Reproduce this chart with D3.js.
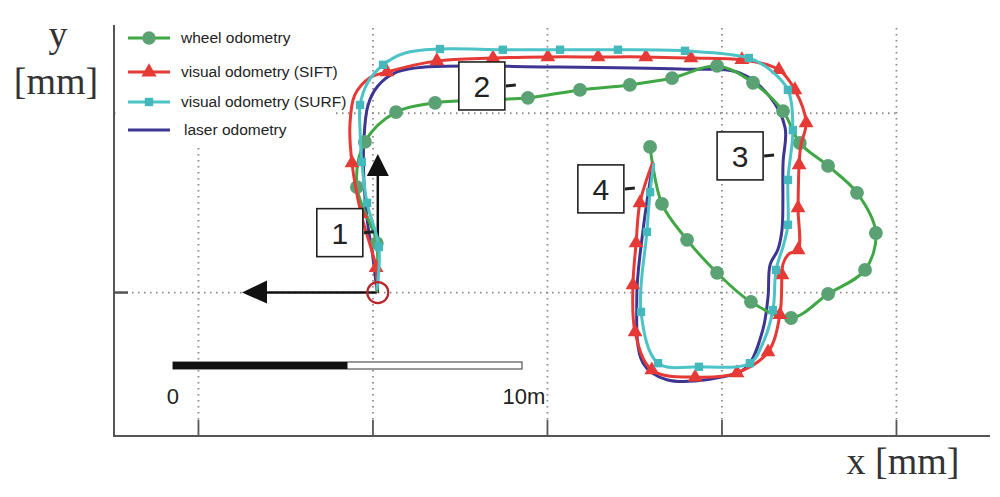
<!DOCTYPE html>
<html>
<head>
<meta charset="utf-8">
<script src="https://cdn.jsdelivr.net/npm/d3@7"></script>
<style>
  body { margin: 0; background: #fff; }
  svg { display: block; }
</style>
</head>
<body>
<svg id="chart" width="1000" height="497"></svg>
<script>
// trajectories in metres, [x, y, marker?]
var wheelOdo = [
  [0.11, 0.02, 0], [0.11, 1.38, 1], [-0.46, 2.94, 1], [-0.23, 4.20, 1], [0.66, 5.03, 1],
  [1.78, 5.29, 1], [3.12, 5.37, 1], [4.44, 5.43, 1], [5.93, 5.65, 1], [7.36, 5.79, 1],
  [8.57, 5.98, 1], [9.86, 6.32, 1], [10.89, 5.85, 1], [11.75, 5.06, 1], [12.23, 4.17, 1],
  [13.04, 3.53, 1], [13.87, 2.78, 1], [14.41, 1.66, 1], [14.10, 0.63, 1], [13.04, -0.04, 1],
  [11.98, -0.71, 1], [10.83, -0.26, 1], [9.86, 0.55, 1], [9.00, 1.47, 1], [8.28, 2.47, 1],
  [7.94, 4.06, 1]
];
var siftOdo = [
  [0.11, 0.07, 0], [0.09, 0.69, 1], [-0.34, 2.19, 1], [-0.60, 3.61, 1], [-0.66, 4.67, 0],
  [-0.52, 5.51, 0], [-0.09, 5.99, 0], [0.40, 6.15, 1], [1.83, 6.46, 1], [3.44, 6.54, 1],
  [5.01, 6.57, 1], [6.45, 6.57, 1], [7.82, 6.57, 1], [9.11, 6.54, 1], [10.57, 6.49, 1],
  [11.63, 6.21, 1], [12.09, 5.65, 1], [12.41, 4.73, 1], [12.26, 4.11, 0], [12.21, 3.56, 1],
  [12.18, 2.36, 1], [12.18, 1.19, 1], [11.92, 1.08, 0], [11.75, 0.80, 0], [11.72, 0.49, 1],
  [11.66, -0.62, 1], [11.32, -1.66, 1], [10.43, -2.24, 1], [9.23, -2.36, 1], [7.99, -2.16, 1],
  [7.51, -1.10, 1], [7.45, 0.21, 1], [7.54, 1.38, 1], [7.65, 2.50, 1], [8.02, 3.64, 0]
];
var surfOdo = [
  [0.11, 0.07, 0], [0.17, 1.27, 1], [-0.17, 2.50, 1], [-0.32, 3.64, 1], [-0.37, 4.53, 0],
  [-0.37, 5.23, 1], [-0.14, 5.87, 0], [0.29, 6.35, 1], [0.92, 6.68, 0], [1.92, 6.79, 1],
  [3.72, 6.77, 1], [5.36, 6.77, 1], [7.02, 6.77, 1], [8.94, 6.74, 1], [10.77, 6.54, 1],
  [11.38, 6.21, 0], [11.89, 5.65, 1], [12.03, 4.53, 1], [11.89, 3.14, 1], [11.89, 1.89, 1],
  [11.78, 1.38, 0], [11.55, 0.63, 1], [11.46, -0.49, 1], [11.15, -1.46, 0], [10.80, -1.97, 1],
  [9.34, -2.07, 1], [8.17, -1.97, 1], [7.68, -0.54, 1], [7.85, 1.69, 1], [7.94, 2.80, 1],
  [8.05, 3.61, 0]
];
var laserOdo = [
  [0.11, 0.07], [-0.03, 1.19], [-0.14, 1.83], [-0.26, 3.14], [-0.26, 4.26], [-0.14, 5.23],
  [0.14, 5.76], [0.69, 6.15], [1.49, 6.29], [5.07, 6.29], [8.80, 6.23], [10.52, 6.12],
  [11.38, 5.45], [11.81, 4.59], [11.75, 3.61], [11.72, 1.75], [11.60, 1.19], [11.38, 0.78],
  [11.32, -0.12], [11.17, -1.04], [10.72, -2.07], [10.03, -2.35], [8.42, -2.43], [7.74, -1.97],
  [7.56, -0.12], [7.74, 1.75], [7.99, 3.41]
];

var legendLabels = ["wheel odometry", "visual odometry (SIFT)", "visual odometry (SURF)", "laser odometry"];
var xGrid = [-5, 0, 5, 10, 15];
var yGrid = [0, 5];
// numbered boxes: label, centre x, centre y (m)
var boxLabels = ["1", "2", "3", "4"];
var boxCentres = [[-0.95, 1.67], [3.12, 5.76], [10.52, 3.81], [6.53, 2.89]];
var scaleBar = [-5.73, 10];   // start (m), length (m)
var scaleLabels = ["0", "10m"];

var svg = d3.select("#chart");
var x = d3.scaleLinear().domain([-7.42, 17.68]).range([114, 990]);
var y = d3.scaleLinear().domain([-4.0, 7.46]).range([436, 25]);

// grid
svg.selectAll(".vgrid").data(xGrid).enter().append("line")
  .attr("x1", d => x(d)).attr("x2", d => x(d)).attr("y1", 28).attr("y2", 420)
  .attr("stroke", "#8a8a8a").attr("stroke-width", 1.8).attr("stroke-dasharray", "1.5,4.5");
svg.selectAll(".hgrid").data(yGrid).enter().append("line")
  .attr("x1", 114).attr("x2", x(15)).attr("y1", d => y(d)).attr("y2", d => y(d))
  .attr("stroke", "#8a8a8a").attr("stroke-width", 1.8).attr("stroke-dasharray", "1.5,4.5");

// legend background hides the grid there
svg.append("rect").attr("x", 117).attr("y", 22).attr("width", 215).attr("height", 122).attr("fill", "#fff");

// axes
svg.append("line").attr("x1", 114).attr("x2", 114).attr("y1", 25).attr("y2", 437)
  .attr("stroke", "#555").attr("stroke-width", 2);
svg.append("line").attr("x1", 113).attr("x2", 990).attr("y1", 436).attr("y2", 436)
  .attr("stroke", "#555").attr("stroke-width", 2);
svg.selectAll(".xtick").data(xGrid).enter().append("line")
  .attr("x1", d => x(d)).attr("x2", d => x(d)).attr("y1", 420).attr("y2", 436)
  .attr("stroke", "#555").attr("stroke-width", 1.8);
svg.selectAll(".ytick").data(yGrid.slice(0, 1)).enter().append("line")
  .attr("x1", 114).attr("x2", 128).attr("y1", d => y(d)).attr("y2", d => y(d))
  .attr("stroke", "#555").attr("stroke-width", 2.5);

svg.append("text").attr("x", 58).attr("y", 47).attr("text-anchor", "middle")
  .attr("font-family", "Liberation Serif, serif").attr("font-size", 38).attr("fill", "#333").text("y");
svg.append("text").attr("x", 56).attr("y", 94).attr("text-anchor", "middle")
  .attr("font-family", "Liberation Serif, serif").attr("font-size", 38).attr("fill", "#333").text("[mm]");
svg.append("text").attr("x", 903).attr("y", 474).attr("text-anchor", "middle")
  .attr("font-family", "Liberation Serif, serif").attr("font-size", 38).attr("fill", "#333").text("x [mm]");

// scale bar
var sb0 = x(scaleBar[0]), sb1 = x(scaleBar[0] + scaleBar[1]), sbm = x(scaleBar[0] + scaleBar[1] / 2);
svg.append("rect").attr("x", sb0).attr("y", 362).attr("width", sb1 - sb0).attr("height", 7)
  .attr("fill", "#fff").attr("stroke", "#333").attr("stroke-width", 1);
svg.append("rect").attr("x", sb0).attr("y", 362).attr("width", sbm - sb0).attr("height", 7).attr("fill", "#111");
svg.selectAll(".sblab").data(scaleLabels).enter().append("text")
  .attr("x", (d, i) => i == 0 ? sb0 : sb1 + 2).attr("y", 404).attr("text-anchor", "middle")
  .attr("font-family", "Liberation Sans, Arial, sans-serif").attr("font-size", 22).attr("fill", "#222")
  .text(d => d);

// robot frame arrows
var ox = x(0.11), oy = y(0);
svg.append("line").attr("x1", ox + 1).attr("x2", ox + 1).attr("y1", oy).attr("y2", 176)
  .attr("stroke", "#111").attr("stroke-width", 2.5);
svg.append("path").attr("d", `M${ox - 10},176 L${ox + 12},176 L${ox + 1},154 Z`).attr("fill", "#111");
svg.append("line").attr("x1", ox).attr("x2", 266).attr("y1", oy).attr("y2", oy)
  .attr("stroke", "#111").attr("stroke-width", 2.5);
svg.append("path").attr("d", `M267,${oy - 12} L267,${oy + 11} L242,${oy} Z`).attr("fill", "#111");

var line = d3.line().x(d => x(d[0])).y(d => y(d[1])).curve(d3.curveCatmullRom.alpha(0.5));

function drawTrack(data, colour, markColour, sym, size) {
  svg.append("path").datum(data).attr("d", line).attr("fill", "none")
    .attr("stroke", colour).attr("stroke-width", 3).attr("stroke-linejoin", "round");
  if (sym) {
    svg.selectAll(null).data(data.filter(d => d[2])).enter().append("path")
      .attr("transform", d => `translate(${x(d[0])},${y(d[1])})`)
      .attr("d", d3.symbol().type(sym).size(size)).attr("fill", markColour);
  }
}
drawTrack(laserOdo, "#3d3592", null, null, 0);
drawTrack(wheelOdo, "#3fa845", "#5aa274", d3.symbolCircle, 150);
drawTrack(siftOdo, "#e53a36", "#e53a36", d3.symbolTriangle, 95);
drawTrack(surfOdo, "#4cc3c6", "#45b8bc", d3.symbolSquare, 70);

// start circle
svg.append("circle").attr("cx", ox + 1).attr("cy", oy).attr("r", 10.5)
  .attr("fill", "none").attr("stroke", "#b8262c").attr("stroke-width", 2.2);

// numbered boxes
boxCentres.forEach(function(c, i) {
  var cx = x(c[0]), cy = y(c[1]);
  svg.append("line").attr("x1", cx + 24).attr("x2", cx + 34).attr("y1", cy).attr("y2", cy - 1)
    .attr("stroke", "#222").attr("stroke-width", 3);
  svg.append("rect").attr("x", cx - 23).attr("y", cy - 24).attr("width", 46).attr("height", 48)
    .attr("fill", "#fff").attr("stroke", "#222").attr("stroke-width", 1.6);
  svg.append("text").attr("x", cx).attr("y", cy + 11).attr("text-anchor", "middle")
    .attr("font-family", "Liberation Sans, Arial, sans-serif").attr("font-size", 30).attr("fill", "#222")
    .text(boxLabels[i]);
});

// legend
var legColours = ["#3fa845", "#e53a36", "#4cc3c6", "#3d3592"];
var legMarks = ["#5aa274", "#e53a36", "#45b8bc", null];
var legSyms = [d3.symbolCircle, d3.symbolTriangle, d3.symbolSquare, null];
var legSizes = [140, 100, 70, 0];
var legY = [38, 72, 102, 130];
var leg = svg.selectAll(".leg").data(legendLabels).enter().append("g")
  .attr("transform", (d, i) => `translate(0,${legY[i]})`);
leg.append("line").attr("x1", 128).attr("x2", 170).attr("y1", 0).attr("y2", 0)
  .attr("stroke", (d, i) => legColours[i]).attr("stroke-width", 3);
leg.filter((d, i) => legSyms[i]).append("path").attr("transform", "translate(149,0)")
  .attr("d", d => d3.symbol().type(legSyms[legendLabels.indexOf(d)]).size(legSizes[legendLabels.indexOf(d)])())
  .attr("fill", d => legMarks[legendLabels.indexOf(d)]);
leg.append("text").attr("x", (d, i) => i == 3 ? 184 : 181).attr("y", 5)
  .attr("font-family", "Liberation Sans, Arial, sans-serif").attr("font-size", 15.5).attr("fill", "#222")
  .text(d => d);
</script>
</body>
</html>
